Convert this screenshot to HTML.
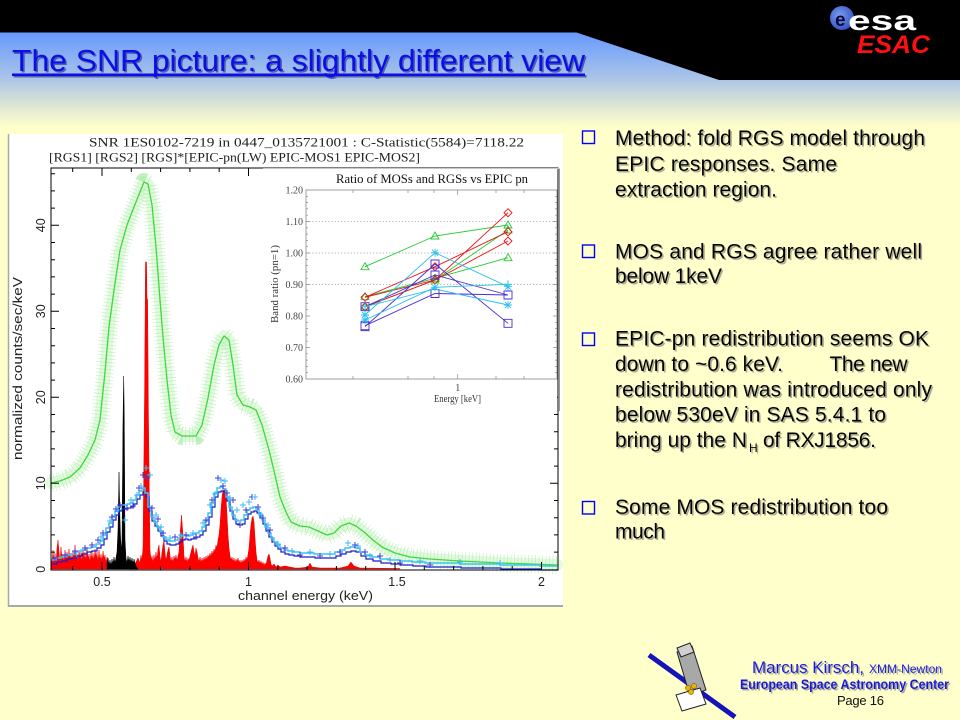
<!DOCTYPE html>
<html>
<head>
<meta charset="utf-8">
<style>
html,body{margin:0;padding:0;background:#ffffcc;}
svg{display:block;}
</style>
</head>
<body>
<svg width="960" height="720" viewBox="0 0 960 720" xmlns="http://www.w3.org/2000/svg">
<defs>
<linearGradient id="hdr" x1="0" y1="32" x2="0" y2="126" gradientUnits="userSpaceOnUse">
<stop offset="0" stop-color="#6699ff"/>
<stop offset="0.5" stop-color="#abc5e8"/>
<stop offset="0.75" stop-color="#d8e2d4"/>
<stop offset="1" stop-color="#ffffcc"/>
</linearGradient>
<radialGradient id="globe" cx="0.4" cy="0.4" r="0.7">
<stop offset="0" stop-color="#7c9cf0"/>
<stop offset="1" stop-color="#2a4cc0"/>
</radialGradient>
<filter id="sh" x="-5%" y="-20%" width="110%" height="150%">
<feDropShadow dx="1.5" dy="1.5" stdDeviation="0" flood-color="#a9a98f" flood-opacity="1"/>
</filter>
<filter id="sh2" x="-5%" y="-20%" width="110%" height="150%">
<feDropShadow dx="1.5" dy="1.5" stdDeviation="0" flood-color="#0a0a70" flood-opacity="0.55"/>
</filter>
</defs>

<!-- background -->
<rect x="0" y="0" width="960" height="720" fill="#ffffcc"/>
<rect x="0" y="32" width="960" height="95" fill="url(#hdr)"/>
<rect x="0" y="0" width="960" height="32.5" fill="#000"/>
<polygon points="575,32 960,32 960,80 719,80" fill="#000"/>

<!-- ESA logo -->
<circle cx="842" cy="18" r="12" fill="url(#globe)"/>
<text x="835" y="26" font-family="Liberation Sans, sans-serif" font-weight="bold" font-size="19" fill="#0a0a3a">e</text>
<text x="848" y="30" font-family="Liberation Sans, sans-serif" font-weight="bold" font-size="28" fill="#fff" textLength="68" lengthAdjust="spacingAndGlyphs">esa</text>
<text x="857" y="53" font-family="Liberation Sans, sans-serif" font-weight="bold" font-style="italic" font-size="25" fill="#ff1010" textLength="73" lengthAdjust="spacingAndGlyphs">ESAC</text>

<!-- Title -->
<g filter="url(#sh2)">
<text x="12" y="71" font-family="Liberation Sans, sans-serif" font-size="31" fill="#0a0ae8" textLength="573" lengthAdjust="spacingAndGlyphs">The SNR picture: a slightly different view</text>
<rect x="12" y="73.5" width="573" height="2.5" fill="#0a0ae8"/>
</g>

<!-- Chart image background -->
<rect x="8" y="134" width="555" height="473" fill="#fff"/>
<line x1="8.5" y1="134" x2="8.5" y2="607" stroke="#a8a8a8" stroke-width="1.5"/>
<line x1="8" y1="606" x2="563" y2="606" stroke="#a8a8a8" stroke-width="2"/>

<!-- Chart titles -->
<text x="89" y="146.5" font-family="Liberation Serif, serif" font-size="12.5" fill="#222" textLength="435" lengthAdjust="spacingAndGlyphs">SNR 1ES0102-7219 in 0447_0135721001 : C-Statistic(5584)=7118.22</text>
<text x="49" y="161.5" font-family="Liberation Serif, serif" font-size="12.5" fill="#222" textLength="371" lengthAdjust="spacingAndGlyphs">[RGS1] [RGS2] [RGS]*[EPIC-pn(LW) EPIC-MOS1 EPIC-MOS2]</text>

<!-- Green data band + model -->
<g fill="none" stroke-linejoin="round" stroke-linecap="round">
<path d="M51,483 L60,481 L70,477 L80,468 L88,455 L95,440 L100,420 L105,372 L109,327 L114,290 L120,250 L127,225 L134,207 L140,192 L144,182 L148,184 L152,205 L156,247 L160,300 L163,337 L167,380 L171,415 L175,432 L182,436 L196,436 L202,425 L208,398 L214,365 L219,345 L224,336 L229,340 L233,365 L237,395 L243,405 L250,407 L256,410 L262,425 L269,450 L275,475 L280,497 L286,512 L291,522 L300,526 L309,527 L318,531 L327,535 L334,533 L341,526 L349,523 L356,526 L364,532 L373,540 L382,547 L395,553 L410,557 L430,559 L460,561 L500,563 L530,564 L557,565" stroke="#e4fae0" stroke-width="12"/>
<path d="M51,483 L60,481 L70,477 L80,468 L88,455 L95,440 L100,420 L105,372 L109,327 L114,290 L120,250 L127,225 L134,207 L140,192 L144,182 L148,184 L152,205 L156,247 L160,300 L163,337 L167,380 L171,415 L175,432 L182,436 L196,436 L202,425 L208,398 L214,365 L219,345 L224,336 L229,340 L233,365 L237,395 L243,405 L250,407 L256,410 L262,425 L269,450 L275,475 L280,497 L286,512 L291,522 L300,526 L309,527 L318,531 L327,535 L334,533 L341,526 L349,523 L356,526 L364,532 L373,540 L382,547 L395,553 L410,557 L430,559 L460,561 L500,563 L530,564 L557,565" stroke="#9aea96" stroke-width="18" stroke-dasharray="0.7 2.8" stroke-linecap="butt" opacity="0.6"/>
<path d="M51,483 L60,481 L70,477 L80,468 L88,455 L95,440 L100,420 L105,372 L109,327 L114,290 L120,250 L127,225 L134,207 L140,192 L144,182 L148,184 L152,205 L156,247 L160,300 L163,337 L167,380 L171,415 L175,432 L182,436 L196,436 L202,425 L208,398 L214,365 L219,345 L224,336 L229,340 L233,365 L237,395 L243,405 L250,407 L256,410 L262,425 L269,450 L275,475 L280,497 L286,512 L291,522 L300,526 L309,527 L318,531 L327,535 L334,533 L341,526 L349,523 L356,526 L364,532 L373,540 L382,547 L395,553 L410,557 L430,559 L460,561 L500,563 L530,564 L557,565" stroke="#3cd83c" stroke-width="1.3"/>
</g>

<!-- Red RGS -->
<path fill="#f00" stroke="#e00" stroke-width="0.5" d="M51,569 L51,556 L52,563 L53,550 L54,561 L55,553 L56,564 L57,548 L58,540 L59,552 L60,562 L61,547 L62,559 L63,554 L64,563 L65,550 L66,558 L67,552 L68,562 L69,549 L70,560 L71,553 L72,563 L73,551 L74,559 L75,545 L76,561 L77,554 L78,562 L79,550 L80,558 L81,553 L82,563 L83,549 L84,560 L85,552 L86,562 L87,548 L88,559 L89,554 L90,563 L91,551 L92,560 L93,553 L94,562 L95,549 L96,558 L97,552 L98,563 L99,550 L100,561 L101,554 L102,562 L103,551 L104,559 L105,555 L106,563 L107,557 L108,569 Z"/>
<path fill="#f00" stroke="#e00" stroke-width="0.5" d="M134,569 L136,562 L138,558 L140,563 L141,555 L142,560 L143,548 L144.5,400 L145.5,262 L146.5,262 L147,298 L147.6,300 L148.5,420 L150,550 L151,560 L152,556 L153,563 L154,555 L155,561 L156,552 L157,560 L158,549 L159,545 L160,557 L161,562 L162,552 L163,545 L164,541 L165,553 L166,561 L167,555 L168,550 L169,547 L170,556 L171,562 L172,557 L173,563 L174,556 L175,560 L176,555 L177,561 L178,556 L179,552 L180,535 L181.5,515 L183,535 L184,556 L185,562 L186,557 L187,563 L188,558 L189,561 L190,556 L191,552 L192,548 L193,545 L194,552 L195,556 L196,548 L197,552 L198,558 L199,562 L200,557 L201,563 L202,558 L203,562 L204,557 L205,561 L206,556 L207,560 L208,555 L209,558 L210,553 L211,557 L212,551 L213,555 L214,549 L215,552 L216,545 L217,548 L218,540 L219,535 L220,525 L221,510 L222,497 L223,490 L224,492 L225,488 L226,497 L227,515 L228,535 L229,548 L230,556 L231,560 L232,557 L233,562 L234,558 L235,563 L236,559 L237,562 L238,558 L239,563 L240,560 L241,564 L242,560 L243,563 L244,559 L245,562 L246,557 L247,560 L248,555 L249,548 L250,535 L251,525 L252,518 L253,516 L254,522 L255,538 L256,552 L257,560 L258,563 L259,560 L260,564 L261,561 L262,565 L263,562 L264,566 L265,563 L266,565 L267,560 L268,556 L269,554 L270,558 L271,564 L272,566 L274,564 L276,567 L278,565 L280,567 L285,566 L290,567 L295,568 L300,568 L308,567 L310,563 L312,567 L320,568 L340,568 L348,566 L351,562 L354,566 L360,568 L400,568.5 L400,569 Z"/>
<!-- Black RGS1 -->
<path fill="#000" stroke="#000" stroke-width="0.5" d="M107,569 L107,562 L108,558 L109,565 L110,560 L111,566 L112,559 L113,564 L114,557 L115,563 L116,558 L117,552 L118,530 L119,472 L120,520 L121,550 L122,540 L123,420 L123.7,376 L124.3,420 L125,540 L126,558 L127,563 L128,556 L129,562 L130,557 L131,563 L132,558 L133,564 L134,559 L135,563 L136,566 L138,569 Z"/>

<!-- Blue MOS histogram (dark) -->
<path fill="none" stroke="#1c1cc8" stroke-width="1.2" transform="translate(1,4)" d="M51,560 H56 V558 H61 V557 H66 V555 H71 V554 H76 V552 H81 V550 H86 V548 H91 V547 H96 V544 H100 V541 H103 V535 H106 V528 H109 V523 H112 V516 H115 V511 H118 V507 H121 V505 H124 V505 H127 V504 H130 V503 H133 V500 H136 V495 H139 V491 H142 V488 H145 V493 H148 V507 H151 V517 H154 V522 H157 V527 H160 V532 H163 V537 H166 V540 H169 V541 H172 V541 H175 V540 H178 V538 H181 V536 H184 V535 H187 V536 H190 V535 H193 V534 H196 V533 H199 V531 H202 V527 H205 V521 H208 V513 H211 V503 H214 V493 H217 V488 H220 V487 H223 V489 H226 V497 H229 V507 H232 V515 H235 V520 H238 V521 H241 V520 H244 V515 H247 V510 H250 V508 H253 V507 H256 V509 H259 V514 H262 V520 H265 V527 H268 V533 H271 V538 H274 V542 H277 V545 H280 V548 H284 V550 H288 V551 H293 V552 H300 V553 H314 V554 H328 V554 H335 V552 H340 V550 H345 V548 H350 V547 H355 V548 H360 V552 H365 V555 H372 V557 H380 V559 H390 V560 H400 V561 H412 V562 H425 V563 H460 V564 H500 V565 H540 V566 H557"/>
<!-- Cyan MOS histogram -->
<path fill="none" stroke="#3cc4f0" stroke-width="1.5" d="M51,560 H56 V558 H61 V557 H66 V555 H71 V554 H76 V552 H81 V550 H86 V548 H91 V547 H96 V544 H100 V541 H103 V535 H106 V528 H109 V523 H112 V516 H115 V511 H118 V507 H121 V505 H124 V505 H127 V504 H130 V503 H133 V500 H136 V495 H139 V491 H142 V488 H145 V493 H148 V507 H151 V517 H154 V522 H157 V527 H160 V532 H163 V537 H166 V540 H169 V541 H172 V541 H175 V540 H178 V538 H181 V536 H184 V535 H187 V536 H190 V535 H193 V534 H196 V533 H199 V531 H202 V527 H205 V521 H208 V513 H211 V503 H214 V493 H217 V488 H220 V487 H223 V489 H226 V497 H229 V507 H232 V515 H235 V520 H238 V521 H241 V520 H244 V515 H247 V510 H250 V508 H253 V507 H256 V509 H259 V514 H262 V520 H265 V527 H268 V533 H271 V538 H274 V542 H277 V545 H280 V548 H284 V550 H288 V551 H293 V552 H300 V553 H314 V554 H328 V554 H335 V552 H340 V550 H345 V548 H350 V547 H355 V548 H360 V552 H365 V555 H372 V557 H380 V559 H390 V560 H400 V561 H412 V562 H425 V563 H460 V564 H500 V565 H540 V566 H557"/>
<!-- crosses -->
<path fill="none" stroke="#4a3ad8" stroke-width="1" d="M95,540h6M98,537v6 M100,533h6M103,530v6 M109,517h6M112,514v6 M113,509h6M116,506v6 M117,505h6M120,502v6 M124,508h6M127,505v6 M130,506h6M133,503v6 M136,488h6M139,485v6 M140,475h6M143,472v6 M144,478h6M147,475v6 M149,508h6M152,505v6 M155,519h6M158,516v6 M160,533h6M163,530v6 M172,537h6M175,534v6 M183,535h6M186,532v6 M193,537h6M196,534v6 M203,520h6M206,517v6 M209,500h6M212,497v6 M215,478h6M218,475v6 M220,486h6M223,483v6 M224,493h6M227,490v6 M230,500h6M233,497v6 M237,525h6M240,522v6 M243,510h6M246,507v6 M249,497h6M252,494v6 M255,507h6M258,504v6 M260,518h6M263,515v6 M267,530h6M270,527v6 M282,548h6M285,545v6 M297,555h6M300,552v6 M317,556h6M320,553v6 M337,552h6M340,549v6 M352,545h6M355,542v6 M362,552h6M365,549v6 M377,556h6M380,553v6 M397,563h6M400,560v6 M427,565h6M430,562v6 M52,558h6M55,555v6 M62,555h6M65,552v6 M72,551h6M75,548v6 M82,548h6M85,545v6 M89,545h6M92,542v6"/>
<path fill="none" stroke="#40b8f0" stroke-width="1" d="M98,537h6M101,534v6 M107,521h6M110,518v6 M115,510h6M118,507v6 M122,520h6M125,517v6 M128,500h6M131,497v6 M134,495h6M137,492v6 M138,486h6M141,483v6 M143,468h6M146,465v6 M147,475h6M150,472v6 M153,515h6M156,512v6 M158,527h6M161,524v6 M167,538h6M170,535v6 M178,535h6M181,532v6 M190,533h6M193,530v6 M200,523h6M203,520v6 M207,505h6M210,502v6 M212,494h6M215,491v6 M218,480h6M221,477v6 M222,481h6M225,478v6 M227,498h6M230,495v6 M234,510h6M237,507v6 M240,505h6M243,502v6 M246,502h6M249,499v6 M252,497h6M255,494v6 M258,515h6M261,512v6 M265,525h6M268,522v6 M275,544h6M278,541v6 M289,551h6M292,548v6 M307,552h6M310,549v6 M327,554h6M330,551v6 M345,543h6M348,540v6 M355,546h6M358,543v6 M367,556h6M370,553v6 M387,560h6M390,557v6 M417,561h6M420,558v6 M457,562h6M460,559v6 M497,563h6M500,560v6"/>

<!-- Main frame & ticks -->
<rect x="51" y="168" width="507" height="402" fill="none" stroke="#000" stroke-width="1"/>
<path fill="none" stroke="#000" stroke-width="1" d="
M51,483.3h8M51,397.3h8M51,311.3h8M51,225.3h8
M558,483.3h-8M558,397.3h-8M558,311.3h-8M558,225.3h-8
M51,552.1h4M51,534.9h4M51,517.7h4M51,500.5h4M51,466.1h4M51,448.9h4M51,431.7h4M51,414.5h4M51,380.1h4M51,362.9h4M51,345.7h4M51,328.5h4M51,294.1h4M51,276.9h4M51,259.7h4M51,242.5h4M51,208.1h4M51,190.9h4M51,173.7h4
M558,552.1h-4M558,534.9h-4M558,517.7h-4M558,500.5h-4M558,466.1h-4M558,448.9h-4M558,431.7h-4M558,414.5h-4
M102,570v-8M248.5,570v-8M395,570v-8M541.5,570v-8
M72.7,570v-4M131.3,570v-4M160.6,570v-4M189.9,570v-4M219.2,570v-4M277.8,570v-4M307.1,570v-4M336.4,570v-4M365.7,570v-4M424.3,570v-4M453.6,570v-4M482.9,570v-4M512.2,570v-4
M102,168v8M248.5,168v8M72.7,168v4M131.3,168v4M160.6,168v4M189.9,168v4M219.2,168v4"/>

<!-- Axis labels -->
<g font-family="Liberation Sans, sans-serif" font-size="12.5" fill="#222" text-anchor="middle">
<text x="102" y="586">0.5</text>
<text x="248.5" y="586">1</text>
<text x="397" y="586">1.5</text>
<text x="541.5" y="586">2</text>
<text transform="translate(45,569.3) rotate(-90)">0</text>
<text transform="translate(45,483.3) rotate(-90)">10</text>
<text transform="translate(45,397.3) rotate(-90)">20</text>
<text transform="translate(45,311.3) rotate(-90)">30</text>
<text transform="translate(45,225.3) rotate(-90)">40</text>
</g>
<text x="305.5" y="600" font-family="Liberation Sans, sans-serif" font-size="13" fill="#222" text-anchor="middle" textLength="135" lengthAdjust="spacingAndGlyphs">channel energy (keV)</text>
<text transform="translate(22,368.5) rotate(-90)" font-family="Liberation Sans, sans-serif" font-size="13" fill="#222" text-anchor="middle" textLength="183" lengthAdjust="spacingAndGlyphs">normalized counts/sec/keV</text>

<!-- Inset -->
<rect x="263" y="169" width="294" height="242" fill="#fff"/>
<line x1="263" y1="168.5" x2="560" y2="168.5" stroke="#c8c8c8" stroke-width="1"/>
<line x1="559.5" y1="169" x2="559.5" y2="411" stroke="#999" stroke-width="1"/>
<text x="432" y="183" font-family="Liberation Serif, serif" font-size="13" fill="#111" text-anchor="middle" textLength="192" lengthAdjust="spacingAndGlyphs">Ratio of MOSs and RGSs vs EPIC pn</text>
<rect x="306" y="190" width="251" height="189" fill="none" stroke="#888" stroke-width="0.8"/>
<g stroke="#999" stroke-width="0.8" stroke-dasharray="1.2 2" fill="none">
<line x1="306" y1="221.5" x2="557" y2="221.5"/>
<line x1="306" y1="253" x2="557" y2="253"/>
<line x1="306" y1="284.5" x2="557" y2="284.5"/>
</g>
<path fill="none" stroke="#888" stroke-width="0.7" d="M306,221.5h4M306,253h4M306,284.5h4M306,316h4M306,347.5h4
M306,196.3h2M306,202.6h2M306,208.9h2M306,215.2h2M306,227.8h2M306,234.1h2M306,240.4h2M306,246.7h2M306,259.3h2M306,265.6h2M306,271.9h2M306,278.2h2M306,290.8h2M306,297.1h2M306,303.4h2M306,309.7h2M306,322.3h2M306,328.6h2M306,334.9h2M306,341.2h2M306,353.8h2M306,360.1h2M306,366.4h2M306,372.7h2
M557,221.5h-4M557,253h-4M557,284.5h-4M557,316h-4M557,347.5h-4
M557,196.3h-2M557,202.6h-2M557,208.9h-2M557,215.2h-2M557,227.8h-2M557,234.1h-2M557,240.4h-2M557,246.7h-2M557,259.3h-2M557,265.6h-2M557,271.9h-2M557,278.2h-2M557,290.8h-2M557,297.1h-2M557,303.4h-2M557,309.7h-2M557,322.3h-2M557,328.6h-2M557,334.9h-2M557,341.2h-2M557,353.8h-2M557,360.1h-2M557,366.4h-2M557,372.7h-2
M457.7,379v-5M353,379v-3M408,379v-3M434,379v-3M496,379v-3M524,379v-3
M457.7,190v5M353,190v3M408,190v3M434,190v3M496,190v3M524,190v3"/>
<g font-family="Liberation Serif, serif" font-size="10" fill="#444" text-anchor="end">
<text x="303" y="193.5">1.20</text>
<text x="303" y="225">1.10</text>
<text x="303" y="256.5">1.00</text>
<text x="303" y="288">0.90</text>
<text x="303" y="319.5">0.80</text>
<text x="303" y="351">0.70</text>
<text x="303" y="382.5">0.60</text>
</g>
<text x="457.7" y="391" font-family="Liberation Serif, serif" font-size="10" fill="#444" text-anchor="middle">1</text>
<text x="457.5" y="402" font-family="Liberation Serif, serif" font-size="10.5" fill="#333" text-anchor="middle" textLength="47" lengthAdjust="spacingAndGlyphs">Energy [keV]</text>
<text transform="translate(278,284) rotate(-90)" font-family="Liberation Serif, serif" font-size="10.5" fill="#333" text-anchor="middle" textLength="78" lengthAdjust="spacingAndGlyphs">Band ratio (pn=1)</text>

<!-- inset series -->
<g fill="none" stroke-width="0.9">
<g stroke="#22cc33">
<polyline points="365,266.7 435,236 508,225"/>
<polyline points="365,296.7 435,278.3 508,257.7"/>
<polyline points="365,306.7 435,280 508,230"/>
<path d="M365,262.7l4,7h-8z M435,232l4,7h-8z M508,221l4,7h-8z M365,292.7l4,7h-8z M435,274.3l4,7h-8z M508,253.7l4,7h-8z M365,302.7l4,7h-8z M435,276l4,7h-8z M508,226l4,7h-8z"/>
</g>
<g stroke="#ee1111">
<polyline points="365,297.3 435,266.7 508,231.7"/>
<polyline points="365,306.7 435,280 508,212.7"/>
<polyline points="365,297.3 435,280 508,241"/>
<path d="M365,293.3l4,4l-4,4l-4,-4z M435,262.7l4,4l-4,4l-4,-4z M508,227.7l4,4l-4,4l-4,-4z M365,302.7l4,4l-4,4l-4,-4z M435,276l4,4l-4,4l-4,-4z M508,208.7l4,4l-4,4l-4,-4z M508,237l4,4l-4,4l-4,-4z"/>
</g>
<g stroke="#4a2cd0">
<polyline points="365,326.7 435,264 508,323.3"/>
<polyline points="365,306.7 435,275 508,295"/>
<polyline points="365,325.7 435,293.5 508,295"/>
<path d="M361,322.7h8v8h-8z M431,260h8v8h-8z M504,319.3h8v8h-8z M361,302.7h8v8h-8z M431,271h8v8h-8z M504,291h8v8h-8z M361,321.7h8v8h-8z M431,289.5h8v8h-8z"/>
</g>
<g stroke="#2cc0ee">
<polyline points="365,315 435,252.7 508,286.7"/>
<polyline points="365,320 435,287.3 508,284.3"/>
<polyline points="365,306.7 435,289 508,305"/>
<path d="M361,315h8M365,311v8M362,312l6,6M368,312l-6,6 M431,252.7h8M435,248.7v8M432,249.7l6,6M438,249.7l-6,6 M504,286.7h8M508,282.7v8M505,283.7l6,6M511,283.7l-6,6 M361,320h8M365,316v8M362,317l6,6M368,317l-6,6 M431,287.3h8M435,283.3v8M432,284.3l6,6M438,284.3l-6,6 M504,284.3h8M508,280.3v8 M504,305h8M508,301v8M505,302l6,6M511,302l-6,6 M361,306.7h8M365,302.7v8"/>
</g>
</g>

<!-- Right bullets -->
<g fill="none" stroke="#0000ff" stroke-width="1.4">
<rect x="582.5" y="131" width="12" height="12.5"/>
<rect x="582.5" y="245" width="12" height="12.5"/>
<rect x="582.5" y="333" width="12" height="12.5"/>
<rect x="582.5" y="501.5" width="12" height="12.5"/>
</g>
<g font-family="Liberation Sans, sans-serif" font-size="21" fill="#000" filter="url(#sh)">
<text x="615" y="145" textLength="310" lengthAdjust="spacing">Method: fold RGS model through</text>
<text x="615" y="171" textLength="222" lengthAdjust="spacing">EPIC responses. Same</text>
<text x="615" y="196.5" textLength="162" lengthAdjust="spacing">extraction region.</text>
<text x="615" y="258.5" textLength="307" lengthAdjust="spacing">MOS and RGS agree rather well</text>
<text x="615" y="283" textLength="107" lengthAdjust="spacing">below 1keV</text>
<text x="615" y="345.5" textLength="314" lengthAdjust="spacing">EPIC-pn redistribution seems OK</text>
<text x="615" y="371" textLength="168" lengthAdjust="spacing">down to ~0.6 keV.</text>
<text x="829.5" y="371" textLength="78" lengthAdjust="spacing">The new</text>
<text x="615" y="396.5" textLength="317" lengthAdjust="spacing">redistribution was introduced only</text>
<text x="615" y="421.5" textLength="271" lengthAdjust="spacing">below 530eV in SAS 5.4.1 to</text>
<text x="615" y="447" textLength="132" lengthAdjust="spacing">bring up the N</text>
<text x="749" y="452" font-size="12">H</text>
<text x="763" y="447" textLength="113" lengthAdjust="spacing">of RXJ1856.</text>
<text x="615" y="514" textLength="273" lengthAdjust="spacing">Some MOS redistribution too</text>
<text x="615" y="538.5" textLength="50" lengthAdjust="spacing">much</text>
</g>

<!-- Footer satellite -->
<line x1="649" y1="655" x2="735" y2="717" stroke="#1414b8" stroke-width="5"/>
<polygon points="677,652 692,646 706,690 690,696" fill="#a8a8a8" stroke="#222" stroke-width="1"/>
<polygon points="677,648 690,643 694,652 681,657" fill="#d0d0d0" stroke="#222" stroke-width="1"/>
<polygon points="676,695 700,688 706,704 682,711" fill="#fff" stroke="#222" stroke-width="1"/>
<circle cx="688" cy="688" r="2.6" fill="#e8b400" stroke="#6a4a00" stroke-width="0.5"/>
<circle cx="694" cy="686" r="2.6" fill="#e8b400" stroke="#6a4a00" stroke-width="0.5"/>
<circle cx="691" cy="692" r="2.6" fill="#e8b400" stroke="#6a4a00" stroke-width="0.5"/>

<!-- Footer text -->
<g font-family="Liberation Sans, sans-serif" fill="#1818e0" filter="url(#sh)">
<text x="752" y="673" font-size="17" textLength="112" lengthAdjust="spacing">Marcus Kirsch,</text>
<text x="869" y="673" font-size="12" textLength="73" lengthAdjust="spacingAndGlyphs">XMM-Newton</text>
<text x="740" y="689" font-size="13.5" font-weight="bold" textLength="209" lengthAdjust="spacingAndGlyphs">European Space Astronomy Center</text>
</g>
<text x="837" y="705" font-family="Liberation Sans, sans-serif" font-size="13" fill="#111" textLength="47" lengthAdjust="spacing">Page 16</text>
</svg>
</body>
</html>
